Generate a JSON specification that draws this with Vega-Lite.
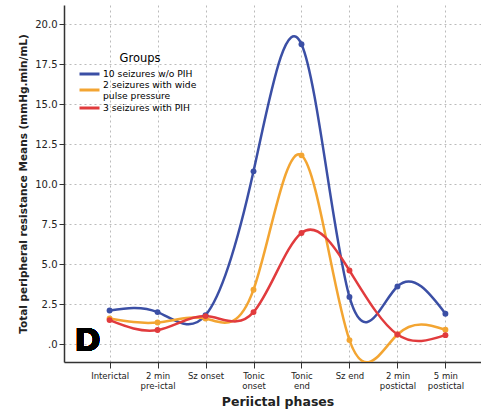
{
  "$schema": "https://vega.github.io/schema/vega-lite/v6.json",
  "width": 427,
  "height": 357,
  "padding": {"left": 18, "top": 5, "right": 0, "bottom": 5},
  "config": {
    "font": "DejaVu Sans",
    "view": {"stroke": null},
    "axis": {"gridColor": "#bbbbbb", "gridDash": [2, 3], "gridWidth": 1, "domainColor": "#333333", "domainWidth": 1.5, "tickColor": "#333333", "labelColor": "#222222", "titleColor": "#222222"}
  },
  "data": {
    "values": [
      {"phase": "Interictal", "group": "10 seizures w/o PIH", "value": 2.1},
      {"phase": "2 min pre-ictal", "group": "10 seizures w/o PIH", "value": 2.0},
      {"phase": "Sz onset", "group": "10 seizures w/o PIH", "value": 1.8},
      {"phase": "Tonic onset", "group": "10 seizures w/o PIH", "value": 10.8},
      {"phase": "Tonic end", "group": "10 seizures w/o PIH", "value": 18.75},
      {"phase": "Sz end", "group": "10 seizures w/o PIH", "value": 2.95},
      {"phase": "2 min postictal", "group": "10 seizures w/o PIH", "value": 3.6},
      {"phase": "5 min postictal", "group": "10 seizures w/o PIH", "value": 1.9},
      {"phase": "Interictal", "group": "2 seizures with wide pulse pressure", "value": 1.6},
      {"phase": "2 min pre-ictal", "group": "2 seizures with wide pulse pressure", "value": 1.35},
      {"phase": "Sz onset", "group": "2 seizures with wide pulse pressure", "value": 1.6},
      {"phase": "Tonic onset", "group": "2 seizures with wide pulse pressure", "value": 3.4},
      {"phase": "Tonic end", "group": "2 seizures with wide pulse pressure", "value": 11.8},
      {"phase": "Sz end", "group": "2 seizures with wide pulse pressure", "value": 0.25},
      {"phase": "2 min postictal", "group": "2 seizures with wide pulse pressure", "value": 0.6},
      {"phase": "5 min postictal", "group": "2 seizures with wide pulse pressure", "value": 0.9},
      {"phase": "Interictal", "group": "3 seizures with PIH", "value": 1.5},
      {"phase": "2 min pre-ictal", "group": "3 seizures with PIH", "value": 0.88},
      {"phase": "Sz onset", "group": "3 seizures with PIH", "value": 1.75},
      {"phase": "Tonic onset", "group": "3 seizures with PIH", "value": 2.0},
      {"phase": "Tonic end", "group": "3 seizures with PIH", "value": 6.95},
      {"phase": "Sz end", "group": "3 seizures with PIH", "value": 4.6},
      {"phase": "2 min postictal", "group": "3 seizures with PIH", "value": 0.6},
      {"phase": "5 min postictal", "group": "3 seizures with PIH", "value": 0.56}
    ]
  },
  "encoding": {
    "x": {
      "field": "phase", "type": "ordinal",
      "sort": ["Interictal", "2 min pre-ictal", "Sz onset", "Tonic onset", "Tonic end", "Sz end", "2 min postictal", "5 min postictal"],
      "scale": {"type": "point", "padding": 0.95},
      "axis": {
        "title": "Periictal phases", "titleFontSize": 12.5, "titleFontWeight": "bold", "titlePadding": 5,
        "labelAngle": 0, "labelFontSize": 8.5, "labelPadding": 3, "tickSize": 6, "grid": true,
        "labelExpr": "(indexof(datum.label, 'Tonic') == 0 || indexof(datum.label, 'min') > 0) ? [substring(datum.label, 0, lastindexof(datum.label, ' ')), substring(datum.label, lastindexof(datum.label, ' ') + 1)] : datum.label"
      }
    },
    "y": {
      "field": "value", "type": "quantitative",
      "scale": {"domain": [-1.12, 21.2], "nice": false, "zero": false},
      "axis": {
        "title": "Total peripheral resistance Means (mmHg.min/mL)", "titleFontSize": 10.5, "titleFontWeight": "bold", "titlePadding": 6,
        "values": [0, 2.5, 5, 7.5, 10, 12.5, 15, 17.5, 20],
        "labelExpr": "datum.value == 0 ? '.0' : format(datum.value, '.1f')",
        "labelFontSize": 10, "tickSize": 5, "grid": true
      }
    },
    "color": {
      "field": "group", "type": "nominal",
      "sort": ["10 seizures w/o PIH", "2 seizures with wide pulse pressure", "3 seizures with PIH"],
      "scale": {"range": ["#3b4fa5", "#f3a532", "#e13b3d"]},
      "legend": {
        "title": "Groups", "titleFontSize": 11.5, "titleFontWeight": "normal", "titleAnchor": "middle", "titlePadding": 3,
        "orient": "none", "legendX": 19, "legendY": 48,
        "symbolType": "M-2,0H2", "symbolStrokeWidth": 3, "symbolSize": 100, "symbolFillColor": "transparent",
        "labelFontSize": 9.2, "labelLimit": 200, "rowPadding": 0, "labelLineHeight": 10.5, "labelOffset": 7,
        "labelExpr": "datum.label == '2 seizures with wide pulse pressure' ? ['2 seizures with wide', 'pulse pressure'] : datum.label",
        "encode": {"labels": {"update": {"dy": {"signal": "datum.value == '2 seizures with wide pulse pressure' ? -5 : 0"}}}}
      }
    }
  },
  "layer": [
    {"mark": {"type": "line", "interpolate": "natural", "strokeWidth": 2.5, "clip": true}},
    {"mark": {"type": "circle", "size": 35, "opacity": 1}},
    {
      "mark": {"type": "text", "text": "D", "fontSize": 32, "fontWeight": "bold", "color": "black", "align": "center", "baseline": "bottom", "dx": -22},
      "encoding": {"x": {"datum": "Interictal"}, "y": {"datum": -0.9}, "color": {"value": "black"}}
    }
  ]
}
